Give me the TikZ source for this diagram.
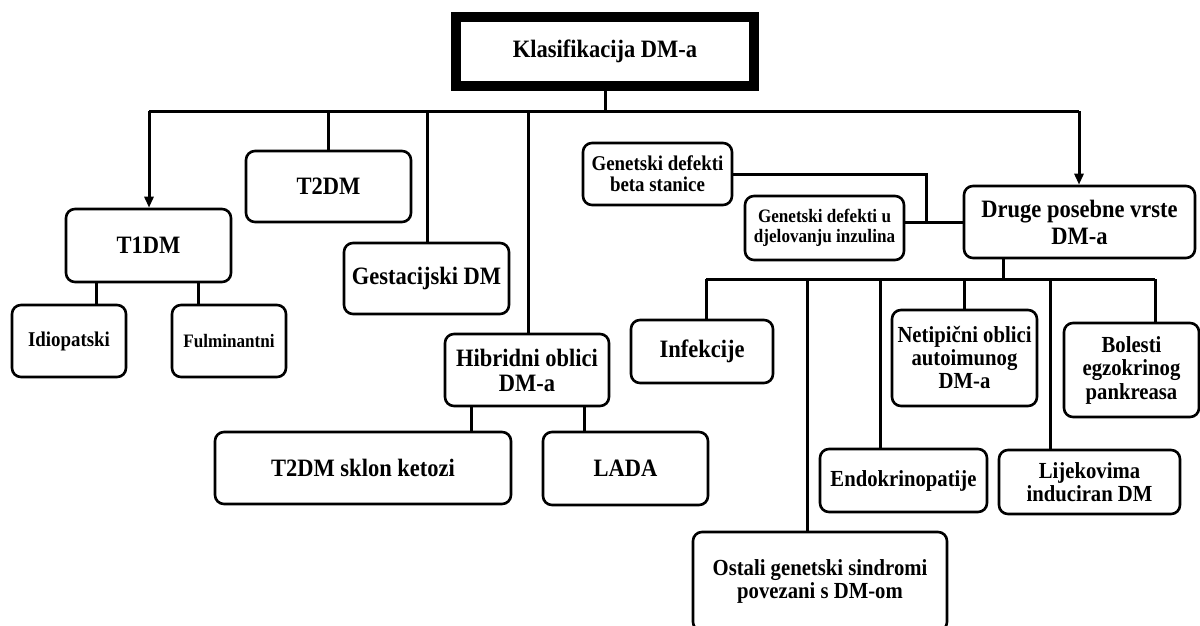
\documentclass[tikz,border=0pt]{standalone}
\usepackage{fontspec}
\setmainfont{Liberation Serif}[FakeStretch=0.9]
\usetikzlibrary{arrows.meta}
\newcommand\fsz[2]{\fontsize{#1}{#2}\selectfont\bfseries}
\begin{document}
\begin{tikzpicture}[x=1pt,y=-1pt,
  box/.style={draw, rounded corners=9pt, line width=2.6pt, align=center, inner sep=0pt},
  conn/.style={line width=3pt},
  arr/.style={line width=3pt, -{Triangle[length=11pt,width=9pt]}}]
\useasboundingbox (0,0) rectangle (1200,626);
\clip (0,0) rectangle (1200,626);
% top
\node[draw, line width=10pt, minimum width=298pt, minimum height=69pt, inner sep=0pt, font=\fsz{25}{27}] (top) at (605,51.5) {Klasifikacija DM-a};
% first level
\node[box, minimum width=165pt, minimum height=73pt, font=\fsz{25}{27}] (t1) at (148.5,245.5) {T1DM};
\node[box, minimum width=165pt, minimum height=71pt, font=\fsz{25}{27}] (t2) at (328.5,186.5) {T2DM};
\node[box, minimum width=165pt, minimum height=71pt, font=\fsz{25}{27}] (gest) at (426.5,278.5) {Gestacijski DM};
\node[box, minimum width=164pt, minimum height=72pt, font=\fsz{25}{25}] (hib) at (527,370) {Hibridni oblici\\DM-a};
\node[box, minimum width=231pt, minimum height=72pt, font=\fsz{25}{27}] (druge) at (1079.5,222) {Druge posebne vrste\\DM-a};
% T1DM children
\node[box, minimum width=114pt, minimum height=72pt, font=\fsz{21}{23}] (idio) at (69,341) {Idiopatski};
\node[box, minimum width=114pt, minimum height=72pt, font=\fsz{19}{21}] (fulm) at (229,341) {Fulminantni};
% hybrid children
\node[box, minimum width=296pt, minimum height=72pt, font=\fsz{25}{27}] (ket) at (363,468) {T2DM sklon ketozi};
\node[box, minimum width=165pt, minimum height=73pt, font=\fsz{25}{27}] (lada) at (625.5,468.5) {LADA};
% genetic defects
\node[box, minimum width=149pt, minimum height=62pt, font=\fsz{21}{21}] (gbeta) at (657.5,174) {Genetski defekti\\beta stanice};
\node[box, minimum width=159pt, minimum height=64pt, font=\fsz{19}{20}] (gu) at (824.5,228) {Genetski defekti u\\djelovanju inzulina};
% other children
\node[box, minimum width=142pt, minimum height=63pt, font=\fsz{25}{27}] (inf) at (702,351.5) {Infekcije};
\node[box, minimum width=254pt, minimum height=99pt, font=\fsz{23}{23.5}] (ost) at (820,581.5) {Ostali genetski sindromi\\povezani s DM-om};
\node[box, minimum width=167pt, minimum height=63pt, font=\fsz{23}{25}] (endo) at (903.5,480.5) {Endokrinopatije};
\node[box, minimum width=145pt, minimum height=96pt, font=\fsz{23}{23}] (neti) at (964.5,358) {Netipični oblici\\autoimunog\\DM-a};
\node[box, minimum width=181pt, minimum height=64pt, font=\fsz{23}{23}] (lijek) at (1089.5,482) {Lijekovima\\induciran DM};
\node[box, minimum width=135pt, minimum height=94pt, font=\fsz{23}{23.5}] (bol) at (1131.5,370) {Bolesti\\egzokrinog\\pankreasa};
% helper coordinates
\coordinate (busL) at (149,111);
\coordinate (busR) at (1079,111);
\coordinate (xt2) at (328,0);
\coordinate (xgest) at (427,0);
\coordinate (xhib) at (528,0);
\coordinate (xid) at (96,0);
\coordinate (xfu) at (198,0);
\coordinate (xket) at (471,0);
\coordinate (xlada) at (584,0);
\coordinate (jn) at (926,222);
\coordinate (bus2L) at (706,279);
\coordinate (bus2R) at (1155,279);
\coordinate (xdr) at (1003,0);
\coordinate (xost) at (807,0);
\coordinate (xendo) at (880,0);
\coordinate (xneti) at (964,0);
\coordinate (xlij) at (1050,0);
% main bus
\draw[conn] (top.south) -- (top.south |- busL);
\draw[conn] (busL) -- (busR);
\draw[arr] (busL) -- (t1.north -| busL);
\draw[conn] (busL -| xt2) -- (t2.north -| xt2);
\draw[conn] (busL -| xgest) -- (gest.north -| xgest);
\draw[conn] (busL -| xhib) -- (hib.north -| xhib);
\draw[arr] (busR) -- (druge.north -| busR);
% T1DM children
\draw[conn] (t1.south -| xid) -- (idio.north -| xid);
\draw[conn] (t1.south -| xfu) -- (fulm.north -| xfu);
% hybrid children
\draw[conn] (hib.south -| xket) -- (ket.north -| xket);
\draw[conn] (hib.south -| xlada) -- (lada.north -| xlada);
% genetic defects
\draw[conn] (gbeta.east) -| (jn);
\draw[conn] (gu.east |- druge.west) -- (druge.west);
% other bus
\draw[conn] (druge.south -| xdr) -- (bus2L -| xdr);
\draw[conn] (bus2L) -- (bus2R);
\draw[conn] (bus2L) -- (inf.north -| bus2L);
\draw[conn] (bus2L -| xost) -- (ost.north -| xost);
\draw[conn] (bus2L -| xendo) -- (endo.north -| xendo);
\draw[conn] (bus2L -| xneti) -- (neti.north -| xneti);
\draw[conn] (bus2L -| xlij) -- (lijek.north -| xlij);
\draw[conn] (bus2R) -- (bol.north -| bus2R);
\end{tikzpicture}
\end{document}
